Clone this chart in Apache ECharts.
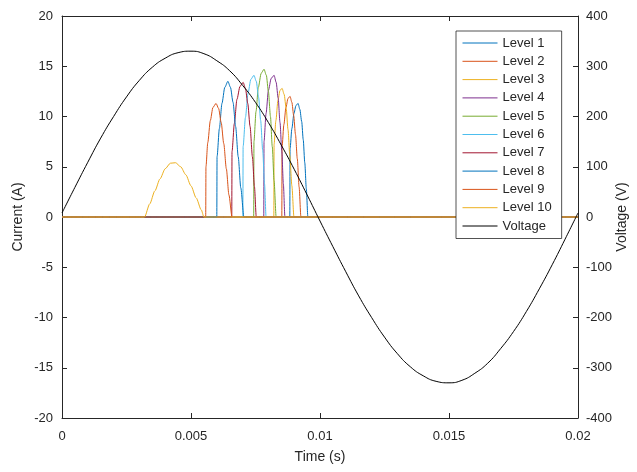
<!DOCTYPE html>
<html>
<head>
<meta charset="utf-8">
<script src="https://cdn.jsdelivr.net/npm/echarts@6/dist/echarts.min.js"></script>
<style>html,body{margin:0;padding:0;background:#fff;overflow:hidden}#c{width:637px;height:472px}</style>
</head>
<body>
<div id="c"></div>
<script>
// ---- Data ----
var xTicks = [0, 0.005, 0.01, 0.015, 0.02];
var levelNames = ['Level 1','Level 2','Level 3','Level 4','Level 5','Level 6','Level 7','Level 8','Level 9','Level 10'];
var levelColors = ['#0072BD','#D95319','#EDB120','#7E2F8E','#77AC30','#4DBEEE','#A2142F','#0072BD','#D95319','#EDB120'];

var level1Time = [0,0.00883,0.00884,0.00891,0.00899,0.00907,0.00915,0.00922,0.00929,0.00935,0.00941,0.00947,0.00953,0.02];
var level1Current = [0,0,6.8,8.8,10.3,11.1,11.3,10.7,9.5,7.7,5.4,2.8,0,0];
var level2Time = [0,0.00852,0.00853,0.00860,0.00868,0.00876,0.00884,0.00891,0.00898,0.00905,0.00912,0.00919,0.00926,0.02];
var level2Current = [0,0,7.0,9.2,10.9,11.8,12.0,11.4,10.1,8.2,5.8,3.0,0,0];
var level3Time = [0,0.00821,0.00822,0.00829,0.00837,0.00845,0.00853,0.00861,0.00869,0.00876,0.00883,0.00891,0.00899,0.02];
var level3Current = [0,0,7.2,9.6,11.6,12.6,12.8,12.2,10.8,8.7,6.1,3.1,0,0];
var level4Time = [0,0.00782,0.00783,0.00791,0.00800,0.00811,0.00822,0.00830,0.00838,0.00845,0.00852,0.00858,0.00864,0.02];
var level4Current = [0,0,7.5,10.3,12.6,13.8,14.1,13.4,11.8,9.4,6.5,3.3,0,0];
var level5Time = [0,0.00743,0.00744,0.00752,0.00761,0.00772,0.00783,0.00792,0.00800,0.00808,0.00815,0.00822,0.00830,0.02];
var level5Current = [0,0,7.5,10.5,12.9,14.3,14.7,14.1,12.5,10.0,7.0,3.6,0,0];
var level6Time = [0,0.00701,0.00702,0.00711,0.00721,0.00732,0.00744,0.00753,0.00762,0.00770,0.00778,0.00785,0.00791,0.02];
var level6Current = [0,0,7.0,9.9,12.3,13.7,14.1,13.5,11.9,9.6,6.6,3.3,0,0];
var level7Time = [0,0.00658,0.00659,0.00668,0.00678,0.00690,0.00702,0.00711,0.00720,0.00729,0.00738,0.00746,0.00753,0.02];
var level7Current = [0,0,6.5,9.3,11.7,13.0,13.4,12.8,11.3,9.0,6.0,3.0,0,0];
var level8Time = [0,0.00600,0.00601,0.00610,0.00620,0.00631,0.00643,0.00653,0.00663,0.00673,0.00683,0.00693,0.00705,0.02];
var level8Current = [0,0,6.0,8.8,11.3,12.9,13.5,12.9,11.4,9.0,6.0,2.9,0,0];
var level9Time = [0,0.00557,0.00558,0.00565,0.00575,0.00585,0.00597,0.00607,0.00617,0.00627,0.00637,0.00647,0.00659,0.02];
var level9Current = [0,0,5.0,7.4,9.6,10.9,11.3,10.8,9.4,7.3,4.8,2.2,0,0];
var level10Time = [0,0.0032,0.0034,0.0036,0.0038,0.0040,0.0042,0.0044,0.0046,0.0048,0.0050,0.0052,0.0054,0.0055,0.02];
var level10Current = [0,0,1.3,2.6,3.8,4.8,5.35,5.4,5.0,4.2,3.1,1.9,0.7,0,0];

var voltageTime = [0,0.0005,0.001,0.0015,0.002,0.0025,0.003,0.0035,0.004,0.0045,0.005,0.0055,0.006,0.0065,0.007,0.0075,0.008,0.0085,0.009,0.0095,0.01,
  0.0105,0.011,0.0115,0.012,0.0125,0.013,0.0135,0.014,0.0145,0.015,0.0155,0.016,0.0165,0.017,0.0175,0.018,0.0185,0.019,0.0195,0.02];
var voltageValues = [8,59,109,157,200,239,272,298,316,327,330,325,311,291,262,228,188,143,95,44,-8,
  -59,-109,-157,-200,-239,-272,-298,-316,-327,-330,-325,-311,-291,-262,-228,-188,-143,-95,-44,8];

var levelTimes = [level1Time,level2Time,level3Time,level4Time,level5Time,level6Time,level7Time,level8Time,level9Time,level10Time];
var levelCurrents = [level1Current,level2Current,level3Current,level4Current,level5Current,level6Current,level7Current,level8Current,level9Current,level10Current];

function pairs(xs, ys){ var o=[]; for (var i=0;i<xs.length;i++) o.push([xs[i], ys[i]]); return o; }

var txt = '#262626';
var font = 'Liberation Sans, Arial, Helvetica, sans-serif';

var series = [];
for (var k=0;k<levelNames.length;k++){
  series.push({
    name: levelNames[k], type:'line', xAxisIndex:0, yAxisIndex:0,
    data: pairs(levelTimes[k], levelCurrents[k]),
    symbol:'none', smooth:0.25, smoothMonotone:'x',
    lineStyle:{color:levelColors[k], width:1}, itemStyle:{color:levelColors[k]},
    emphasis:{disabled:true}, animation:false
  });
}
series.push({
  name:'Voltage', type:'line', xAxisIndex:0, yAxisIndex:1,
  data: pairs(voltageTime, voltageValues),
  symbol:'none', smooth:true,
  lineStyle:{color:'#000', width:1}, itemStyle:{color:'#000'},
  emphasis:{disabled:true}, animation:false
});

var chart = echarts.init(document.getElementById('c'), null, {renderer:'canvas', width:637, height:472});
chart.setOption({
  animation:false,
  backgroundColor:'#fff',
  textStyle:{fontFamily:font},
  grid:{left:62, right:59, top:16, bottom:54, containLabel:false, outerBoundsMode:'none'},
  legend:{
    orient:'vertical', left:456, top:31,
    data: levelNames.concat(['Voltage']),
    itemWidth:35, itemHeight:10, itemGap:5.3,
    padding:[5.5,10,6,6],
    backgroundColor:'#fff', borderColor:'#262626', borderWidth:0.8,
    itemStyle:{opacity:0, borderWidth:0},
    lineStyle:{width:1},
    textStyle:{fontSize:13, color:txt, fontFamily:font},
    selectedMode:false
  },
  xAxis:[{
    type:'value', min:xTicks[0], max:xTicks[xTicks.length-1], interval:0.005,
    name:'Time (s)', nameLocation:'middle', nameGap:32, nameMoveOverlap:false,
    nameTextStyle:{fontSize:14, color:txt, fontFamily:font},
    axisLine:{show:true, onZero:false, lineStyle:{color:txt, width:1}},
    axisTick:{show:true, inside:true, length:5, lineStyle:{color:txt}},
    axisLabel:{fontSize:13, color:txt, margin:12, fontFamily:font,
      formatter:function(v){ return String(parseFloat(v.toFixed(4))); }},
    splitLine:{show:false}
  },{
    type:'value', position:'top', min:0, max:0.02, interval:0.005,
    axisLine:{show:true, onZero:false, lineStyle:{color:txt, width:1}},
    axisTick:{show:true, inside:true, length:5, lineStyle:{color:txt}},
    axisLabel:{show:false}, splitLine:{show:false}
  }],
  yAxis:[{
    type:'value', min:-20, max:20, interval:5, position:'left',
    name:'Current (A)', nameLocation:'middle', nameGap:37, nameRotate:90, nameMoveOverlap:false,
    nameTextStyle:{fontSize:14, color:txt, fontFamily:font},
    axisLine:{show:true, onZero:false, lineStyle:{color:txt, width:1}},
    axisTick:{show:true, inside:true, length:5, lineStyle:{color:txt}},
    axisLabel:{fontSize:13, color:txt, margin:9, fontFamily:font},
    splitLine:{show:false}
  },{
    type:'value', min:-400, max:400, interval:100, position:'right',
    name:'Voltage (V)', nameLocation:'middle', nameGap:37, nameRotate:90, nameMoveOverlap:false,
    nameTextStyle:{fontSize:14, color:txt, fontFamily:font},
    axisLine:{show:true, onZero:false, lineStyle:{color:txt, width:1}},
    axisTick:{show:true, inside:true, length:5, lineStyle:{color:txt}},
    axisLabel:{fontSize:13, color:txt, margin:8, fontFamily:font},
    splitLine:{show:false}
  }],
  series: series
});
</script>
</body>
</html>
